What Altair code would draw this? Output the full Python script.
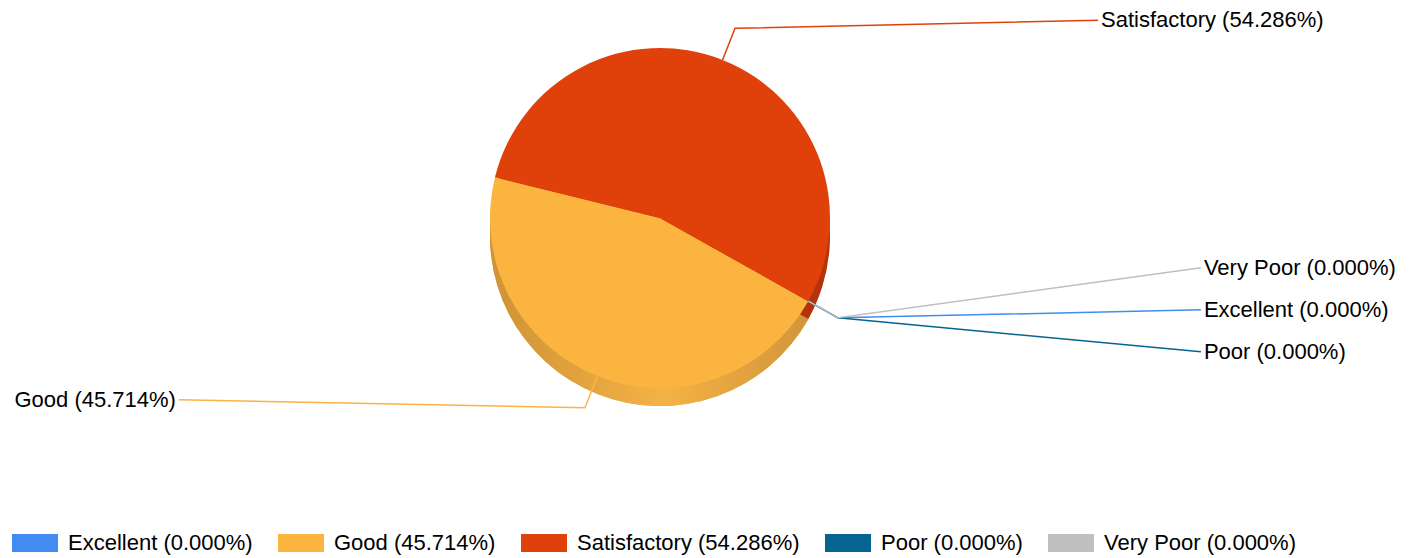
import math
import altair as alt
import pandas as pd

# ---- data ----
categories = ["Excellent", "Good", "Satisfactory", "Poor", "Very Poor"]
counts = [0, 16, 19, 0, 0]
colors = ["#418CF0", "#FCB441", "#E0400A", "#056492", "#BFBFBF"]
side_colors = ["#2F6FC8", "#D99A3C", "#B5330A", "#044B6E", "#9A9A9A"]

# ---- layout / style ----
W, H = 1400, 550
CX, CY = 652, 210
R = 170
DEPTH = 18
START_DEG = 119.3
ELBOW = 1.2
RUN_RIGHT = 366
RUN_LEFT = 409
LABEL_DY = -8
STACK_GAP = 42
FONT = "Liberation Sans, Arial, Helvetica, sans-serif"
FS = 22

total = sum(counts)
labels = [f"{c} ({100 * v / total:.3f}%)" for c, v in zip(categories, counts)]
starts, acc = [], 0
for v in counts:
    starts.append(acc)
    acc += v
ends = [s + v for s, v in zip(starts, counts)]

df = pd.DataFrame({
    "category": categories,
    "label": labels,
    "start": starts,
    "end": ends,
    "side": side_colors,
    "idx": list(range(len(categories))),
})

a0 = math.radians(START_DEG)
theta_scale = alt.Scale(domain=[0, total], range=[a0, a0 + 2 * math.pi])

# leader lines + label anchors derived from slice mid-angles
groups = {}
line_rows, text_rows = [], []
for cat, lab, s, e, col in zip(categories, labels, starts, ends, colors):
    ang = a0 + (s + e) / 2 / total * 2 * math.pi
    ux, uy = math.sin(ang), -math.cos(ang)
    px, py = CX + R * ux, CY + R * uy
    ex, ey = CX + ELBOW * R * ux, CY + ELBOW * R * uy
    key = (round(ex), round(ey))
    k = groups.get(key, 0)
    groups[key] = k + 1
    off = 0 if k == 0 else ((k + 1) // 2) * (1 if k % 2 else -1)
    ly = ey + LABEL_DY + off * STACK_GAP
    if ux >= 0:
        lx = ex + RUN_RIGHT
        endx = lx - 3
        side = "right"
    else:
        lx = ex - RUN_LEFT
        endx = lx + 3
        side = "left"
    for j, (xx, yy) in enumerate([(px, py), (ex, ey), (endx, ly)]):
        line_rows.append({"category": cat, "pt": j, "x": xx, "y": yy, "color": col})
    text_rows.append({"label": lab, "x": lx, "y": ly, "side": side})

lines_df = pd.DataFrame(line_rows)
text_df = pd.DataFrame(text_rows)

xs = alt.Scale(domain=[0, W], range=[0, W], nice=False, zero=False)
ys = alt.Scale(domain=[0, H], range=[0, H], nice=False, zero=False)

base = alt.Chart(df)

side_layer = base.mark_arc(radius=R, x=CX, y=CY + DEPTH, strokeWidth=0).encode(
    theta=alt.Theta("start:Q", scale=theta_scale),
    theta2="end:Q",
    fill=alt.Fill("side:N", scale=None),
)

good_side = base.transform_filter(alt.datum.category == "Good").mark_arc(
    radius=R, x=CX, y=CY + DEPTH, strokeWidth=0,
    fill=alt.LinearGradient(
        gradient="linear", x1=0, y1=0, x2=1, y2=0,
        stops=[
            alt.GradientStop(color="#CF9236", offset=0),
            alt.GradientStop(color="#F4B345", offset=0.55),
            alt.GradientStop(color="#D2953A", offset=1),
        ],
    ),
).encode(
    theta=alt.Theta("start:Q", scale=theta_scale),
    theta2="end:Q",
)

top_layer = base.mark_arc(radius=R, x=CX, y=CY, strokeWidth=0, opacity=1).encode(
    theta=alt.Theta("start:Q", scale=theta_scale),
    theta2="end:Q",
    color=alt.Color(
        "label:N",
        scale=alt.Scale(domain=labels, range=colors),
        legend=alt.Legend(
            orient="none", legendX=4, legendY=512, direction="horizontal",
            columns=len(labels), title=None,
            symbolType="M-1,-0.39L1,-0.39L1,0.39L-1,0.39Z",
            symbolSize=2116, symbolStrokeWidth=0, symbolOpacity=1,
            labelFont=FONT, labelFontSize=FS, labelColor="#000000",
            labelOffset=10, columnPadding=25, labelLimit=500,
        ),
    ),
    order=alt.Order("idx:Q"),
)

lines = alt.Chart(lines_df).mark_line(strokeWidth=1.5).encode(
    x=alt.X("x:Q", scale=xs, axis=None),
    y=alt.Y("y:Q", scale=ys, axis=None),
    detail="category:N",
    order="pt:Q",
    stroke=alt.Stroke("color:N", scale=None),
)

text_right = alt.Chart(text_df).transform_filter(alt.datum.side == "right").mark_text(
    align="left", baseline="middle", font=FONT, fontSize=FS, color="#000000"
).encode(
    x=alt.X("x:Q", scale=xs, axis=None),
    y=alt.Y("y:Q", scale=ys, axis=None),
    text="label:N",
)

text_left = alt.Chart(text_df).transform_filter(alt.datum.side == "left").mark_text(
    align="right", baseline="middle", font=FONT, fontSize=FS, color="#000000"
).encode(
    x=alt.X("x:Q", scale=xs, axis=None),
    y=alt.Y("y:Q", scale=ys, axis=None),
    text="label:N",
)

chart = alt.layer(side_layer, good_side, top_layer, lines, text_right, text_left).properties(
    width=W, height=H, autosize=alt.AutoSizeParams(type="none"), padding=0,
    background="white",
).configure_view(strokeWidth=0, stroke="transparent")

chart.save("out.html", embed_options={"renderer": "svg", "actions": False})
